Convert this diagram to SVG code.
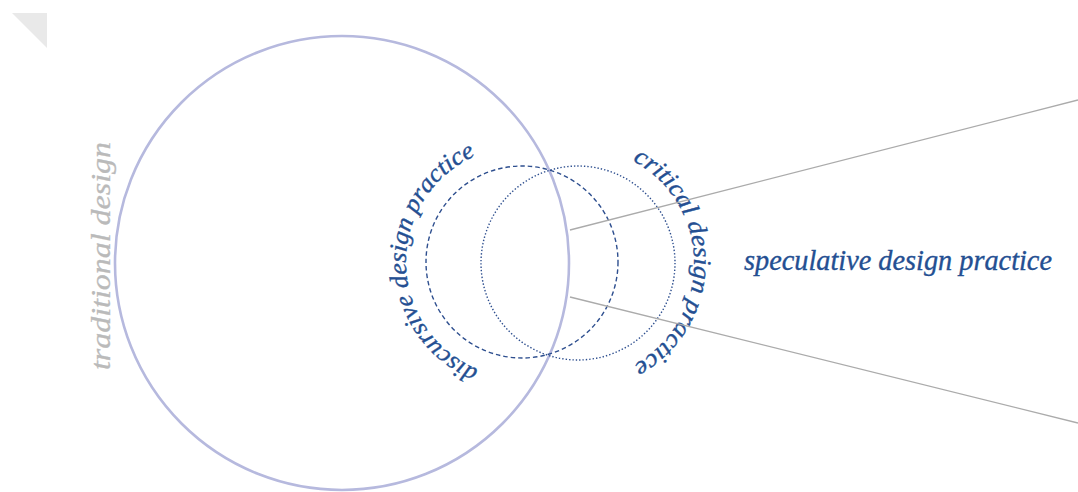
<svg xmlns="http://www.w3.org/2000/svg" xmlns:xlink="http://www.w3.org/1999/xlink" width="1078" height="492" viewBox="0 0 1078 492">
  <style>
    .lbl { font-family: 'Liberation Serif', 'Times New Roman', serif; font-style: italic; fill: #244f92; stroke: #244f92; stroke-width: 0.35; }
    .gray { font-family: 'Liberation Serif', 'Times New Roman', serif; font-style: italic; fill: #bababa; stroke: #bababa; stroke-width: 0.3; }
    .ring { fill: none; stroke: #2e4f8f; stroke-width: 1.4; }
    .conn { stroke: #ababab; stroke-width: 1.3; fill: none; }
  </style>
  <defs>
    <path id="arcDisc" d="M 478.5 369.6 A 116 116 0 0 1 486.2 151.7"/>
    <path id="arcCrit" d="M 632.5 160.6 A 116 116 0 0 1 628.9 367.3"/>
  </defs>
  <rect width="1078" height="492" fill="#ffffff"/>
  <polygon points="12,13 47,13 47,48" fill="#e9e9e9"/>

  <g id="traditional-design">
    <circle cx="342" cy="263" r="227" fill="none" stroke="#b6b9de" stroke-width="2.6"/>
    <text class="gray" font-size="28" text-anchor="middle" transform="translate(110,256) rotate(-90)" textLength="228" lengthAdjust="spacingAndGlyphs">traditional design</text>
  </g>

  <g id="discursive-design-practice">
    <circle class="ring" cx="522" cy="262" r="96" stroke-dasharray="4.5 3"/>
    <text class="lbl" font-size="25"><textPath xlink:href="#arcDisc" href="#arcDisc" textLength="272" lengthAdjust="spacingAndGlyphs">discursive design practice</textPath></text>
  </g>

  <g id="critical-design-practice">
    <circle class="ring" cx="578" cy="263" r="97" stroke-dasharray="1.4 2"/>
    <text class="lbl" font-size="25"><textPath xlink:href="#arcCrit" href="#arcCrit" textLength="250" lengthAdjust="spacingAndGlyphs">critical design practice</textPath></text>
  </g>

  <g id="speculative-design-practice">
    <text class="lbl" x="744" y="270" font-size="29" textLength="308" lengthAdjust="spacingAndGlyphs">speculative design practice</text>
  </g>

  <g id="connectors">
    <line class="conn" x1="570" y1="230" x2="1078" y2="100"/>
    <line class="conn" x1="570" y1="297" x2="1078" y2="423"/>
  </g>
</svg>
